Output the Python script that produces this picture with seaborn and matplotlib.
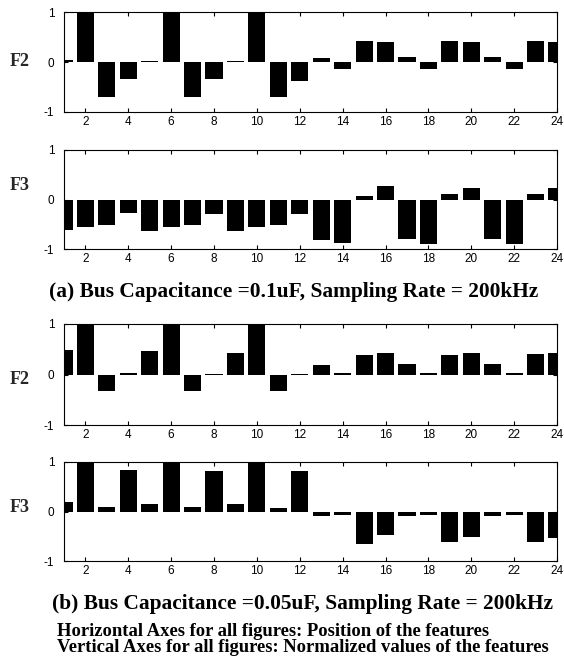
import numpy as np
import matplotlib
matplotlib.use('Agg')
import matplotlib.pyplot as plt
import seaborn as sns

# feature positions 1..24
positions = np.arange(1, 25)

# (a) Bus Capacitance = 0.1uF
f2_a = [0.05, 1.0, -0.69, -0.34, 0.02, 1.0, -0.69, -0.34, 0.02, 1.0, -0.69, -0.37,
        0.09, -0.14, 0.43, 0.41, 0.11, -0.14, 0.43, 0.41, 0.11, -0.14, 0.43, 0.41]
f3_a = [-0.62, -0.55, -0.51, -0.27, -0.64, -0.55, -0.51, -0.29, -0.64, -0.55, -0.51, -0.29,
        -0.81, -0.88, 0.08, 0.27, -0.79, -0.90, 0.11, 0.24, -0.79, -0.90, 0.11, 0.24]

# (b) Bus Capacitance = 0.05uF
f2_b = [0.48, 1.0, -0.32, 0.03, 0.46, 1.0, -0.32, 0.01, 0.43, 1.0, -0.32, 0.01,
        0.19, 0.03, 0.39, 0.43, 0.21, 0.03, 0.39, 0.43, 0.21, 0.03, 0.41, 0.43]
f3_b = [0.20, 1.0, 0.09, 0.84, 0.15, 1.0, 0.09, 0.81, 0.15, 1.0, 0.07, 0.81,
        -0.09, -0.07, -0.65, -0.48, -0.09, -0.07, -0.62, -0.51, -0.09, -0.07, -0.62, -0.53]

panels = [('F2', f2_a), ('F3', f3_a), ('F2', f2_b), ('F3', f3_b)]
xticks = list(range(2, 25, 2))
yticks = [-1, 0, 1]

sns.set_style('ticks')
plt.rcParams['font.family'] = ['Liberation Sans', 'DejaVu Sans']

W, H = 564, 670
fig = plt.figure(figsize=(W / 100, H / 100), dpi=100)

# axes boxes in pixels: (top, bottom)
boxes = [(12.5, 112), (150, 249), (324, 425), (462, 561)]
label_y = [62, 185, 380, 507]
left, right = 64, 557

for (name, vals), (top, bot), ly in zip(panels, boxes, label_y):
    ax = fig.add_axes([left / W, (H - bot) / H, (right - left) / W, (bot - top) / H])
    sns.barplot(x=positions, y=vals, native_scale=True, color='black',
                saturation=1, width=0.8, ax=ax, linewidth=0)
    ax.set_xlim(1, 24)
    ax.set_ylim(-1, 1)
    ax.set_xticks(xticks)
    ax.set_xticklabels([str(t) for t in xticks])
    ax.set_yticks(yticks)
    ax.set_yticklabels(['-1', '0', '1'])
    ax.set_xlabel('')
    ax.set_ylabel('')
    ax.tick_params(axis='both', direction='in', length=3, width=0.8,
                   top=True, right=True, labelsize=8.5, colors='black')
    ax.tick_params(axis='x', pad=3)
    ax.tick_params(axis='y', pad=7)
    for s in ax.spines.values():
        s.set_visible(True)
        s.set_linewidth(0.8)
        s.set_color('black')
    fig.text(20 / W, 1 - ly / H, name, ha='center', va='center',
             family='Liberation Serif', fontweight='bold', fontsize=13)

serif = dict(family='Liberation Serif', fontweight='bold', color='black')
fig.text(49 / W, 1 - 292 / H, '(a) Bus Capacitance =0.1uF, Sampling Rate = 200kHz',
         ha='left', va='center', fontsize=15.4, **serif)
fig.text(52 / W, 1 - 604 / H, '(b) Bus Capacitance =0.05uF, Sampling Rate = 200kHz',
         ha='left', va='center', fontsize=15.4, **serif)
fig.text(57 / W, 1 - 632 / H, 'Horizontal Axes for all figures: Position of the features',
         ha='left', va='center', fontsize=13.4, **serif)
fig.text(57 / W, 1 - 648 / H, 'Vertical Axes for all figures: Normalized values of the features',
         ha='left', va='center', fontsize=13.4, **serif)

fig.savefig('out.png', dpi=100)
